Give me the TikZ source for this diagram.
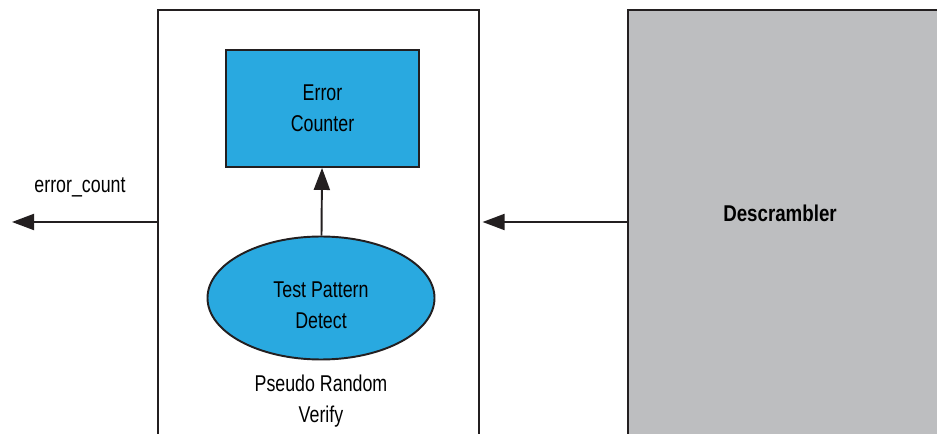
\documentclass[tikz,border=0pt]{standalone}
\usepackage{fontspec}
\setmainfont[FakeStretch=0.78,BoldFeatures={FakeStretch=0.82}]{Liberation Sans}
\usetikzlibrary{arrows.meta,positioning,shapes.geometric}
\definecolor{fg}{HTML}{000000}
\definecolor{stroke}{HTML}{231F20}
\definecolor{blk}{HTML}{29A9E0}
\definecolor{greyblk}{HTML}{BDBEC0}
\begin{document}
\begin{tikzpicture}[
  font=\fontsize{13}{17.5}\selectfont,>={Triangle[length=4.4mm,width=3.2mm]},
  every node/.append style={text=fg},
  outer/.style={draw=stroke, line width=1.1pt, fill=white, anchor=north west},
  func/.style={draw=stroke, line width=1.1pt, fill=blk, align=center},
  lbl/.style={align=center},
  sig/.style={->, draw=stroke, line width=1.1pt},
]
\useasboundingbox (0,0) rectangle (18.74,8.66);
\clip (0,0) rectangle (18.74,8.66);
% enclosing blocks
\node[outer, minimum width=6.42cm, minimum height=9cm] (prv) at (3.14,8.48) {};
\node[outer, fill=greyblk, minimum width=6.6cm, minimum height=9cm] (desc) at (12.54,8.48) {};
\node[lbl, font=\fontsize{13}{17.5}\selectfont\bfseries] (desclbl) at (15.6,4.4) {Descrambler};
% inner blocks
\node[func, minimum width=3.86cm, minimum height=2.34cm] (cnt) at (6.45,6.49) {Error\\Counter};
\node[func, ellipse, minimum width=4.54cm, minimum height=2.46cm, inner sep=0pt,
  label={[lbl, yshift=-4pt]center:{Test Pattern\\Detect}}] (det) at (6.42,2.70) {};
\node[lbl] (prvlbl) at (6.42,0.64) {Pseudo Random\\Verify};
% ports
\coordinate (out) at (0.24,4.22);
\node[lbl] (outlbl) at (1.6,4.92) {error\_count};
% flows
\draw[sig] (det) -- (cnt);
\draw[sig] (out -| prv.west) -- (out);
\draw[sig, shorten >=1.5pt] (out -| desc.west) -- (out -| prv.east);
\end{tikzpicture}
\end{document}
